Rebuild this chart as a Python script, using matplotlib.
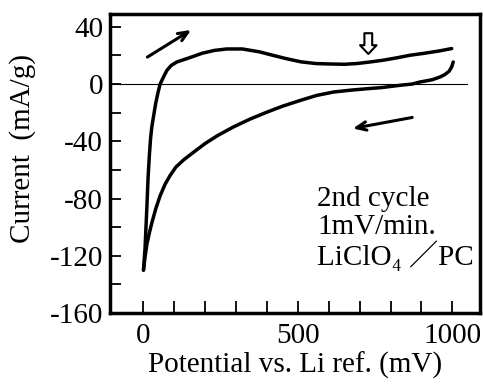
import matplotlib.pyplot as plt

# anodic (forward) sweep, mV vs mA/g
fwd_x = [0, 5, 11, 15, 19, 23, 27, 33, 40, 47, 54, 65, 76, 90, 108, 130, 160, 190, 230, 270, 320, 375, 420, 461, 510, 559, 605, 650, 690, 730, 775, 820, 863, 910, 960, 998]
fwd_y = [-130, -115, -86, -65, -50, -38, -30, -22, -13, -6, 0, 5, 9.6, 13, 15.4, 17, 19.2, 21.5, 23.5, 24.5, 24.5, 22.5, 20, 17.8, 15.5, 14.3, 14, 13.8, 14.3, 15.3, 16.6, 18.3, 20.1, 21.5, 23.2, 24.8]

# cathodic (reverse) sweep
rev_x = [1003, 998, 990, 975, 960, 935, 895, 870, 830, 770, 723, 670, 615, 560, 507, 450, 399, 345, 291, 240, 200, 160, 130, 105, 86, 70, 54, 40, 27, 18, 11, 5, 0]
rev_y = [15.4, 12, 9, 6.5, 4.9, 3, 1.4, 0, -0.9, -2.5, -3.3, -4.3, -5.6, -8, -11.5, -15.5, -19.7, -24.5, -30, -36, -41.5, -48, -53, -58, -64, -70, -78, -87, -97, -105, -112, -121, -130]

plt.rcParams['font.family'] = ['Liberation Serif', 'Noto Sans CJK JP']
plt.rcParams['axes.unicode_minus'] = False

fig = plt.figure(figsize=(4.83, 3.86), dpi=100)
ax = fig.add_axes([0.228, 0.189, 0.766, 0.775])

ax.plot(fwd_x, fwd_y, color='black', lw=2.5, solid_capstyle='round')
ax.plot(rev_x, rev_y, color='black', lw=2.5, solid_capstyle='round')
ax.plot([-108, 1048], [0, 0], color='black', lw=0.8)

# sweep direction arrows
ax.annotate('', xy=(162, 38.8), xytext=(5, 17.8),
            arrowprops=dict(arrowstyle='->,head_length=0.7,head_width=0.3', color='black', lw=2.2))
ax.annotate('', xy=(669, -31.4), xytext=(879, -23),
            arrowprops=dict(arrowstyle='->,head_length=0.7,head_width=0.3', color='black', lw=2.2))
ax.annotate('', xy=(728, 21), xytext=(728, 35.5),
            arrowprops=dict(arrowstyle='simple,head_length=0.45,head_width=0.85,tail_width=0.4',
                            mutation_scale=14, shrinkA=0, shrinkB=0,
                            fc='white', ec='black', lw=1.5))

ax.text(563, -80, '2nd cycle', fontsize=21, va='center', ha='left')
ax.text(563, -100, '1mV/min.', fontsize=21, va='center', ha='left')
ax.text(563, -120, 'LiClO₄ ／PC', fontsize=21, va='center', ha='left')

ax.set_xlim(-108, 1090)
ax.set_ylim(-160, 49)
ax.set_xticks([0, 500, 1000])
ax.set_xticks(range(0, 1001, 100), minor=True)
ax.set_yticks(range(-160, 41, 40))
ax.set_yticks(range(-160, 41, 20), minor=True)
ax.tick_params(which='both', direction='in', width=1.3, labelsize=21)
ax.tick_params(axis='x', which='both', length=9, top=False)
ax.tick_params(axis='y', which='both', length=8, right=False)
ax.tick_params(axis='x', pad=7)
ax.tick_params(axis='y', pad=5)
for s in ax.spines.values():
    s.set_linewidth(2.5)

ax.set_xlabel('Potential vs. Li ref. (mV)', fontsize=21, labelpad=2)
ax.set_ylabel('Current  (mA/g)', fontsize=21)
ax.yaxis.set_label_coords(-0.2, 0.55)

fig.savefig('out.png', dpi=100)
